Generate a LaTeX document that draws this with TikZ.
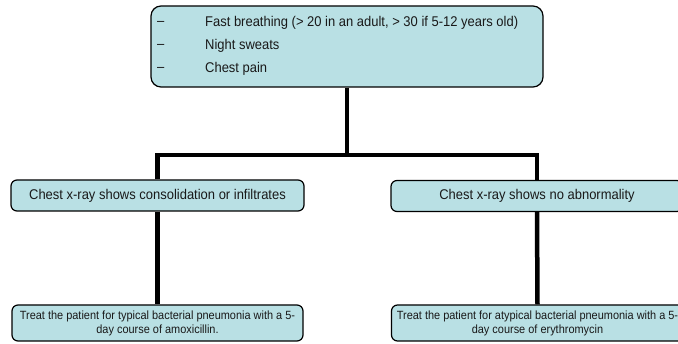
\documentclass[tikz,border=0pt]{standalone}
\usepackage{fontspec}
\setmainfont{Liberation Sans}
\newfontfamily\narrowsans[FakeStretch=0.92]{Liberation Sans}
\definecolor{boxfill}{RGB}{185,224,228}
\definecolor{txt}{RGB}{25,25,25}
\begin{document}
\begin{tikzpicture}[x=1pt,y=-1pt,
  flowbox/.style={draw=black,line width=1.2pt,fill=boxfill,rounded corners=6pt,inner sep=0pt,text=txt},
  midbox/.style={flowbox,minimum width=293pt,minimum height=31pt,font=\narrowsans\fontsize{14.1}{16}\selectfont},
  botbox/.style={flowbox,minimum width=292pt,minimum height=36pt,align=center,font=\narrowsans\fontsize{11.9}{14}\selectfont},
  conn/.style={draw=black,line width=4.5pt,line join=miter},
  toptext/.style={anchor=west,inner sep=0pt,text=txt,font=\narrowsans\fontsize{14.1}{16}\selectfont}]
\useasboundingbox (0,0) rectangle (678,344);
\clip (0,0) rectangle (678,344);
% top box
\node[flowbox,rounded corners=10pt,minimum width=392pt,minimum height=81pt] (top) at (347,46.5) {};
\node[toptext] (d1) at (157,23) {–};
\node[toptext] (d2) at (157,46) {–};
\node[toptext] (d3) at (157,69) {–};
\node[toptext] (t1) at (205,23) {Fast breathing (> 20 in an adult, > 30 if 5-12 years old)};
\node[toptext] (t2) at (205,46) {Night sweats};
\node[toptext] (t3) at (205,69) {Chest pain};
% middle boxes
\node[midbox] (cl) at (157.5,195.5) {Chest x-ray shows consolidation or infiltrates};
\node[midbox,minimum width=292pt] (cr) at (537,196) {Chest x-ray shows no abnormality};
% bottom boxes
\node[botbox,minimum width=291pt] (bl) at (157.5,323) {Treat the patient for typical bacterial pneumonia with a 5-\\day course of amoxicillin.};
\node[botbox] (br) at (537.5,323) {Treat the patient for atypical bacterial pneumonia with a 5-\\day course of erythromycin};
% connectors
\coordinate (bar) at (347,155);
\draw[conn] (top.south) -- (bar);
\draw[conn] (cl.north) |- (bar) -| (cr.north);
\draw[conn] (cl.south) -- (bl.north);
\draw[conn] (cr.south) -- (br.north);
\end{tikzpicture}
\end{document}
